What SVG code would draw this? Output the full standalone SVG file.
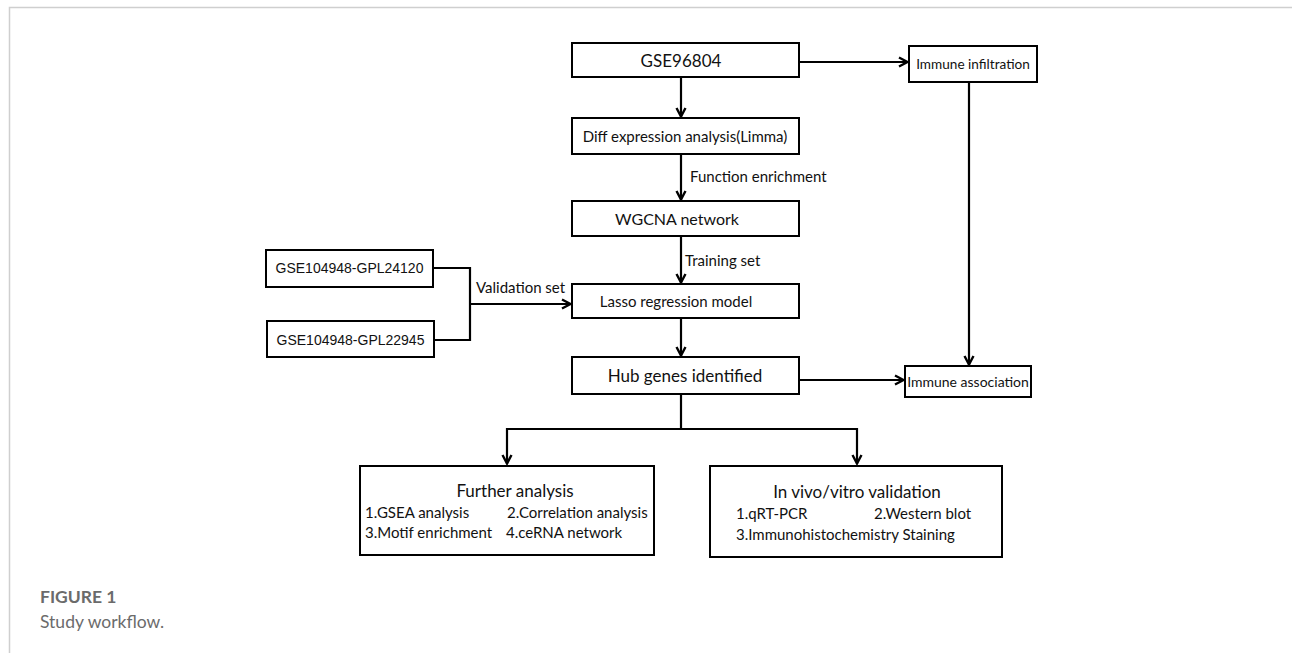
<svg xmlns="http://www.w3.org/2000/svg" width="1292" height="653" viewBox="0 0 1292 653">
<style>
.box{fill:#fff;stroke:#000;stroke-width:2}
.ln{fill:none;stroke:#000;stroke-width:2.2}
.t{font-family:Lato,"Open Sans",sans-serif;fill:#111;text-anchor:middle}
.s{font-family:Lato,"Open Sans",sans-serif;fill:#111;text-anchor:start;font-size:15px}
.a{font-family:"Liberation Sans",Arial,sans-serif;fill:#111;text-anchor:middle;font-size:14px}
.l{font-family:Lato,"Open Sans",sans-serif;fill:#111;font-size:15px}
.cap{font-family:Lato,"Open Sans",sans-serif;fill:#6b6b6b}
</style>
<defs>
<marker id="arr" viewBox="0 0 12 12" refX="10.5" refY="6" markerWidth="12" markerHeight="12" markerUnits="userSpaceOnUse" orient="auto">
<path d="M1.5,1.5 L10,6 L1.5,10.5" fill="none" stroke="#000" stroke-width="2.4"/>
</marker>
</defs>
<rect x="0" y="0" width="1292" height="653" fill="#fff"/>
<path d="M9.5,653 V7.5 H1292" fill="none" stroke="#cfcfcf" stroke-width="1.5"/>

<g id="connectors">
<path class="ln" d="M799,62 H908" marker-end="url(#arr)"/>
<path class="ln" d="M681,77 V117" marker-end="url(#arr)"/>
<path class="ln" d="M681,154 V200" marker-end="url(#arr)"/>
<path class="ln" d="M681,236 V283" marker-end="url(#arr)"/>
<path class="ln" d="M433,268 H470 V340 H434"/>
<path class="ln" d="M470,304 H571" marker-end="url(#arr)"/>
<path class="ln" d="M681,318 V356" marker-end="url(#arr)"/>
<path class="ln" d="M799,380 H904" marker-end="url(#arr)"/>
<path class="ln" d="M969,82 V365" marker-end="url(#arr)"/>
<path class="ln" d="M681,394 V429"/>
<path class="ln" d="M507,429 H857"/>
<path class="ln" d="M507,428 V464" marker-end="url(#arr)"/>
<path class="ln" d="M857,428 V464" marker-end="url(#arr)"/>
<text class="l" x="690" y="182">Function enrichment</text>
<text class="l" x="685" y="266">Training set</text>
<text class="l" x="476" y="293">Validation set</text>
</g>

<g id="gse96804">
<rect class="box" x="572" y="43" width="227" height="34"/>
<text class="t" x="681" y="67" font-size="17">GSE96804</text>
</g>
<g id="immune-infiltration">
<rect class="box" x="909" y="46" width="128" height="36"/>
<text class="t" x="973" y="69" font-size="13.6">Immune infiltration</text>
</g>
<g id="diff-expression">
<rect class="box" x="572" y="118" width="227" height="36"/>
<text class="t" x="685" y="142" font-size="15">Diff expression analysis(Limma)</text>
</g>
<g id="wgcna">
<rect class="box" x="572" y="201" width="227" height="35"/>
<text class="t" x="677" y="225" font-size="16">WGCNA network</text>
</g>
<g id="gpl24120">
<rect class="box" x="266" y="250" width="167" height="37"/>
<text class="a" x="349.5" y="273">GSE104948-GPL24120</text>
</g>
<g id="gpl22945">
<rect class="box" x="267" y="321" width="167" height="36"/>
<text class="a" x="350.5" y="345">GSE104948-GPL22945</text>
</g>
<g id="lasso">
<rect class="box" x="572" y="284" width="227" height="34"/>
<text class="t" x="676" y="307" font-size="15">Lasso regression model</text>
</g>
<g id="hub-genes">
<rect class="box" x="572" y="357" width="227" height="37"/>
<text class="t" x="685" y="382" font-size="17">Hub genes identified</text>
</g>
<g id="immune-association">
<rect class="box" x="905" y="366" width="126" height="31"/>
<text class="t" x="968" y="387" font-size="14">Immune association</text>
</g>
<g id="further-analysis">
<rect class="box" x="360" y="466" width="294" height="89"/>
<text class="t" x="515" y="497" font-size="17">Further analysis</text>
<text class="s" x="365" y="518">1.GSEA analysis</text>
<text class="s" x="507" y="518">2.Correlation analysis</text>
<text class="s" x="365" y="538">3.Motif enrichment</text>
<text class="s" x="506" y="538">4.ceRNA network</text>
</g>
<g id="validation">
<rect class="box" x="710" y="466" width="292" height="91"/>
<text class="t" x="857" y="498" font-size="17">In vivo/vitro validation</text>
<text class="s" x="736" y="519">1.qRT-PCR</text>
<text class="s" x="874" y="519">2.Western blot</text>
<text class="s" x="736" y="540">3.Immunohistochemistry Staining</text>
</g>
<text class="cap" x="40" y="603" font-size="17.5" font-weight="bold">FIGURE 1</text>
<text class="cap" x="40" y="628" font-size="17.5">Study workflow.</text>
</svg>
